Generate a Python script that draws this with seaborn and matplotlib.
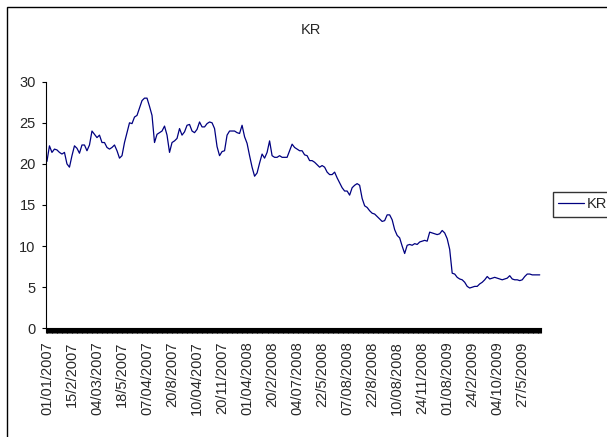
import matplotlib
matplotlib.use('Agg')
import matplotlib.pyplot as plt
import seaborn as sns
import pandas as pd
import numpy as np
from matplotlib.patches import Rectangle
from matplotlib.ticker import FixedLocator

title = "KR"
series_name = "KR"

values = [
    20.3, 22.2, 21.4, 21.8, 21.7, 21.4, 21.2, 21.4, 20.0, 19.6,
    21.0, 22.2, 21.9, 21.3, 22.3, 22.3, 21.6, 22.3, 24.0, 23.6,
    23.2, 23.5, 22.6, 22.6, 22.0, 21.8, 22.0, 22.3, 21.6, 20.7,
    21.0, 22.6, 23.8, 25.0, 24.9, 25.7, 25.9, 26.8, 27.7, 28.0,
    28.0, 27.0, 25.9, 22.6, 23.6, 23.8, 24.0, 24.6, 23.5, 21.4,
    22.6, 22.8, 23.1, 24.3, 23.5, 23.9, 24.7, 24.8, 24.0, 23.8,
    24.2, 25.1, 24.5, 24.5, 24.9, 25.1, 25.0, 24.3, 22.1, 21.0,
    21.5, 21.6, 23.5, 24.0, 24.0, 24.0, 23.8, 23.7, 24.7, 23.3,
    22.5, 21.0, 19.6, 18.5, 18.9, 20.1, 21.2, 20.7, 21.4, 22.8,
    21.0, 20.8, 20.8, 21.0, 20.8, 20.8, 20.8, 21.6, 22.4, 22.0,
    21.8, 21.6, 21.6, 21.1, 21.0, 20.4, 20.4, 20.2, 19.9, 19.6,
    19.8, 19.6, 19.0, 18.7, 18.7, 19.0, 18.3, 17.7, 17.1, 16.7,
    16.7, 16.2, 17.1, 17.4, 17.6, 17.4, 15.8, 14.9, 14.7, 14.3,
    14.0, 13.9, 13.6, 13.3, 13.0, 13.1, 13.8, 13.8, 13.2, 12.0,
    11.3, 11.0, 10.0, 9.1, 10.1, 10.2, 10.1, 10.3, 10.2, 10.5,
    10.6, 10.7, 10.6, 11.7, 11.6, 11.5, 11.4, 11.5, 11.9, 11.6,
    10.9, 9.6, 6.7, 6.6, 6.2, 6.0, 5.9, 5.6, 5.1, 4.9,
    5.0, 5.1, 5.1, 5.4, 5.6, 5.9, 6.3, 6.0, 6.1, 6.2,
    6.1, 6.0, 5.9, 6.0, 6.1, 6.4, 6.0, 5.9, 5.9, 5.8,
    5.9, 6.3, 6.6, 6.6, 6.5, 6.5, 6.5, 6.5,
]

tick_labels = [
    "01/01/2007", "15/2/2007", "04/03/2007", "18/5/2007", "07/04/2007",
    "20/8/2007", "10/04/2007", "20/11/2007", "01/04/2008", "20/2/2008",
    "04/07/2008", "22/5/2008", "07/08/2008", "22/8/2008", "10/08/2008",
    "24/11/2008", "01/08/2009", "24/2/2009", "04/10/2009", "27/5/2009",
]
label_step = 10

y_ticks = [0, 5, 10, 15, 20, 25, 30]

sns.set_theme(style="white")
plt.rcParams['font.family'] = ['Liberation Sans', 'DejaVu Sans']

W, H = 607, 437
fig = plt.figure(figsize=(W / 100, H / 100), dpi=100)
fig.patch.set_facecolor('white')

left_px, right_px, top_px, bottom_px = 45.7, 541.0, 81.7, 328.3
ax = fig.add_axes([left_px / W, 1 - bottom_px / H,
                   (right_px - left_px) / W, (bottom_px - top_px) / H])

df = pd.DataFrame({'idx': np.arange(len(values)), 'value': values})
sns.lineplot(data=df, x='idx', y='value', ax=ax, color='#000080',
             linewidth=0.9, label=series_name)

n = len(values)
ax.set_xlim(-0.5, n - 0.5)
ax.set_ylim(0, 30)
ax.set_yticks(y_ticks)
ax.set_yticklabels([str(v) for v in y_ticks])
ax.set_xticks(range(0, n, label_step))
ax.set_xticklabels(tick_labels, rotation=90, va='top', ha='center', fontsize=10.5)
ax.xaxis.set_minor_locator(FixedLocator(np.arange(-0.5, n - 0.4, 1 / 3)))

ax.tick_params(axis='x', which='major', length=0, pad=9.6, bottom=True)
ax.tick_params(axis='x', which='minor', length=3.6, width=0.8, color='black', bottom=True)
ax.tick_params(axis='y', which='major', length=2.9, width=0.8, color='black',
               pad=4.3, labelsize=10.5, left=True)
ax.set_xlabel('')
ax.set_ylabel('')
for s in ['top', 'right']:
    ax.spines[s].set_visible(False)
for s in ['left', 'bottom']:
    ax.spines[s].set_color('black')
    ax.spines[s].set_linewidth(0.8)

leg = ax.legend(loc='center left', bbox_to_anchor=(552.5 / W, 1 - 204.4 / H),
                bbox_transform=fig.transFigure, borderaxespad=0, frameon=True,
                fancybox=False, edgecolor='#333333', framealpha=1,
                handlelength=1.8, handletextpad=0.2, borderpad=0.35, fontsize=10.5)
leg.get_frame().set_linewidth(1.0)

fig.text(311 / W, 1 - 30.5 / H, title, ha='center', va='center', fontsize=10.5)

fig.add_artist(Rectangle((7 / W, -0.05), 1.2, 1 - 6.7 / H + 0.05,
                         transform=fig.transFigure, fill=False,
                         edgecolor='black', linewidth=1.0))

fig.savefig('out.png', dpi=100)
